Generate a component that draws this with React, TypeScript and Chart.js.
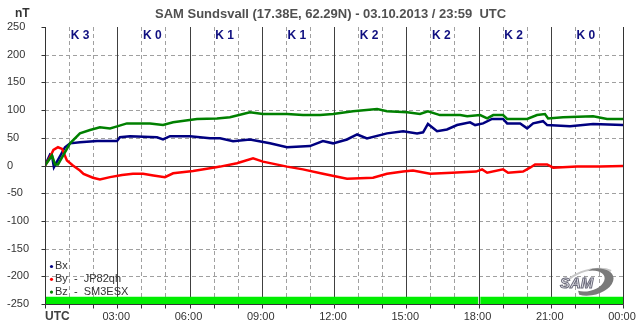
import React, { useEffect, useRef } from 'react';
import { Chart, registerables } from 'chart.js';

Chart.register(...registerables);

const FONT = 'Arial, "Liberation Sans", sans-serif';

// ---- data (hours UTC, nT) ----
const bxTimes = [0, 0.21, 0.29, 0.37, 0.83, 1.04, 1.45, 2.16, 2.99, 3.11, 3.53, 4.65, 4.9, 5.19, 6.02, 6.85, 7.27, 7.81, 8.51, 9.34, 10.05, 11.0, 11.54, 11.96, 12.54, 12.96, 13.37, 14.2, 14.87, 15.45, 15.7, 15.9, 16.28, 16.69, 17.11, 17.65, 17.86, 18.19, 18.56, 19.02, 19.19, 19.73, 20.02, 20.27, 20.68, 20.85, 21.8, 22.76, 24];
const bxValues = [0, 20, 18, -3, 33, 40, 42, 44, 44, 51, 53, 51, 47, 53, 53, 49, 49, 44, 47, 40, 33, 35, 44, 40, 47, 56, 49, 58, 62, 58, 60, 75, 62, 65, 73, 78, 73, 76, 84, 84, 76, 76, 67, 76, 80, 73, 71, 75, 73];

const byTimes = [0, 0.15, 0.35, 0.54, 0.71, 0.91, 1.16, 1.45, 1.6, 1.99, 2.28, 2.7, 3.2, 3.65, 4.07, 4.5, 4.98, 5.32, 6.15, 7.1, 7.27, 7.97, 8.64, 9.05, 10.05, 10.71, 11.54, 12.54, 13.62, 14.2, 14.87, 15.28, 15.99, 16.9, 17.9, 18.15, 18.36, 19.02, 19.23, 19.85, 20.14, 20.35, 20.85, 21.1, 22.09, 23.05, 24];
const byValues = [0, 10, 28, 33, 30, 9, 0, -9, -15, -22, -25, -21, -17, -15, -15, -18, -21, -14, -10, -3, -2, 4, 13, 7, -2, -7, -15, -24, -22, -15, -11, -9, -15, -13, -11, -7, -13, -7, -13, -11, -4, 2, 2, -4, -2, -2, -1];

const bzTimes = [0, 0.29, 0.42, 0.54, 0.75, 1.04, 1.45, 1.87, 2.28, 2.7, 3.03, 3.4, 4.07, 4.36, 4.9, 5.32, 6.31, 7.14, 7.68, 8.51, 9.05, 10.05, 10.71, 11.42, 11.96, 12.79, 13.79, 14.2, 15.04, 15.57, 15.9, 16.4, 17.24, 17.53, 18.07, 18.36, 18.61, 19.02, 19.19, 20.02, 20.43, 20.76, 20.89, 21.51, 22.76, 23.34, 24];
const bzValues = [0, 18, 2, 2, 18, 40, 58, 64, 69, 67, 71, 76, 76, 76, 73, 78, 84, 85, 87, 96, 93, 93, 91, 91, 93, 98, 102, 98, 96, 93, 98, 91, 91, 89, 91, 85, 91, 91, 84, 84, 91, 93, 85, 87, 89, 84, 84];

// data availability bar segments (start hour, end hour)
const availStarts = [0, 18.07];
const availEnds = [18.0, 24];
const availTop = -237;
const availBottom = -250;

const kIndexLabels = ['K 3', 'K 0', 'K 1', 'K 1', 'K 2', 'K 2', 'K 2', 'K 0'];
const hourTickHours = [3, 6, 9, 12, 15, 18, 21, 24];
const hourTickLabels = ['03:00', '06:00', '09:00', '12:00', '15:00', '18:00', '21:00', '00:00'];
const legendLabels = ['Bx', 'By  -  JP82qh', 'Bz  -  SM3ESX'];
const seriesColors = ['#000080', '#ff0000', '#008000'];
const titleText = 'SAM Sundsvall (17.38E, 62.29N) - 03.10.2013 / 23:59  UTC';
const yMin = -250;
const yMax = 250;
const yStep = 50;

const toPoints = (t: number[], v: number[]) => t.map((h, i) => ({ x: h, y: v[i] }));

const decor = {
  id: 'decor',
  beforeDatasetsDraw(chart: any) {
    const { ctx, chartArea: a, scales } = chart;
    const x = scales.x;
    const y = scales.y;
    ctx.save();
    ctx.lineWidth = 1;
    ctx.strokeStyle = '#a0a0a0';
    ctx.setLineDash([4, 3]);
    for (let v = yMin + yStep; v < yMax; v += yStep) {
      if (v === 0) continue;
      const py = Math.round(y.getPixelForValue(v)) + 0.5;
      ctx.beginPath();
      ctx.moveTo(a.left, py);
      ctx.lineTo(a.right, py);
      ctx.stroke();
    }
    for (let h = 1; h < 24; h++) {
      if (h % 3 === 0) continue;
      const px = Math.round(x.getPixelForValue(h)) + 0.5;
      ctx.beginPath();
      ctx.moveTo(px, a.top);
      ctx.lineTo(px, a.bottom);
      ctx.stroke();
    }
    ctx.setLineDash([]);
    ctx.strokeStyle = '#404040';
    for (let h = 3; h < 24; h += 3) {
      const px = Math.round(x.getPixelForValue(h)) + 0.5;
      ctx.beginPath();
      ctx.moveTo(px, a.top);
      ctx.lineTo(px, a.bottom);
      ctx.stroke();
    }
    const zy = Math.round(y.getPixelForValue(0)) + 0.5;
    ctx.beginPath();
    ctx.moveTo(a.left, zy);
    ctx.lineTo(a.right, zy);
    ctx.stroke();
    ctx.restore();
  },
  afterDatasetsDraw(chart: any) {
    const { ctx, chartArea: a, scales } = chart;
    const x = scales.x;
    const y = scales.y;
    ctx.save();
    ctx.lineWidth = 1;
    ctx.strokeStyle = '#333333';
    const l = Math.round(a.left) + 0.5;
    const r = Math.round(a.right) + 0.5;
    const b = Math.round(a.bottom) + 0.5;
    ctx.beginPath();
    ctx.moveTo(l, a.top);
    ctx.lineTo(l, b);
    ctx.lineTo(r, b);
    ctx.lineTo(r, a.top);
    ctx.stroke();
    for (let v = yMin; v <= yMax; v += yStep) {
      const py = Math.round(y.getPixelForValue(v)) + 0.5;
      ctx.beginPath();
      ctx.moveTo(l - 4, py);
      ctx.lineTo(l, py);
      ctx.stroke();
    }
    for (let h = 0; h <= 24; h++) {
      const px = Math.round(x.getPixelForValue(h)) + 0.5;
      ctx.beginPath();
      ctx.moveTo(px, b);
      ctx.lineTo(px, b + 4);
      ctx.stroke();
    }
    ctx.restore();
  },
  afterDraw(chart: any) {
    const { ctx, chartArea: a, scales } = chart;
    const x = scales.x;
    ctx.save();
    ctx.textBaseline = 'middle';
    // title
    ctx.fillStyle = '#505050';
    ctx.font = `bold 13px ${FONT}`;
    ctx.textAlign = 'left';
    ctx.fillText(titleText, 155, 14);
    ctx.font = `bold 12px ${FONT}`;
    ctx.fillStyle = '#333333';
    ctx.fillText('nT', 15, 14);
    // x labels
    ctx.fillStyle = '#404040';
    ctx.fillText('UTC', a.left, 317);
    ctx.font = `11px ${FONT}`;
    ctx.fillStyle = '#333333';
    ctx.textAlign = 'center';
    hourTickHours.forEach((h, i) => {
      ctx.fillText(hourTickLabels[i], x.getPixelForValue(h) - 1, 317);
    });
    // K indices
    ctx.font = `bold 12px ${FONT}`;
    ctx.fillStyle = '#101080';
    kIndexLabels.forEach((k, i) => {
      const px = x.getPixelForValue(i * 3 + 1.5) - 1;
      ctx.fillText(k, px, 36);
    });
    // legend
    ctx.font = `11px ${FONT}`;
    ctx.textAlign = 'left';
    legendLabels.forEach((lab, i) => {
      const ly = 266 + i * 12.8;
      ctx.fillStyle = seriesColors[i];
      ctx.beginPath();
      ctx.arc(51.5, ly + 0.5, 1.6, 0, Math.PI * 2);
      ctx.fill();
      ctx.fillStyle = '#333333';
      ctx.fillText(lab, 55, ly);
    });
    // SAM logo
    ctx.save();
    ctx.translate(586, 282);
    ctx.strokeStyle = '#c8c8c8';
    ctx.lineWidth = 2;
    ctx.beginPath();
    ctx.ellipse(4, 0, 26, 12, -0.25, Math.PI * 1.05, Math.PI * 1.85);
    ctx.stroke();
    ctx.fillStyle = '#7a7a7a';
    ctx.beginPath();
    ctx.ellipse(6, 0, 22, 13, -0.25, -Math.PI * 0.45, Math.PI * 0.75);
    ctx.ellipse(2, -1, 17, 10, -0.25, Math.PI * 0.75, -Math.PI * 0.45, true);
    ctx.closePath();
    ctx.fill();
    ctx.restore();
    ctx.font = `italic bold 15px ${FONT}`;
    ctx.textAlign = 'left';
    ctx.lineWidth = 1;
    ctx.strokeStyle = '#6a6a7a';
    ctx.fillStyle = '#e8e8ee';
    ctx.fillText('SAM', 560, 284);
    ctx.strokeText('SAM', 560, 284);
    ctx.restore();
  },
};

export default function App() {
  const ref = useRef<HTMLCanvasElement | null>(null);
  useEffect(() => {
    if (!ref.current) return;
    const availDatasets = availStarts.map((s, i) => ({
      label: 'avail' + i,
      data: [
        { x: s, y: availTop },
        { x: availEnds[i], y: availTop },
      ],
      borderWidth: 0,
      borderColor: 'rgba(0,0,0,0)',
      backgroundColor: '#00ee00',
      pointRadius: 0,
      fill: { value: availBottom },
      order: 10,
    }));
    const lineW = 2.5;
    const chart = new Chart(ref.current, {
      type: 'line',
      data: {
        datasets: [
          { label: 'Bz', data: toPoints(bzTimes, bzValues), borderColor: seriesColors[2], borderWidth: lineW, pointRadius: 0, fill: false, order: 1 },
          { label: 'By', data: toPoints(byTimes, byValues), borderColor: seriesColors[1], borderWidth: lineW, pointRadius: 0, fill: false, order: 2 },
          { label: 'Bx', data: toPoints(bxTimes, bxValues), borderColor: seriesColors[0], borderWidth: lineW, pointRadius: 0, fill: false, order: 3 },
          ...availDatasets,
        ] as any,
      },
      options: {
        animation: false,
        responsive: false,
        maintainAspectRatio: false,
        devicePixelRatio: 1,
        layout: { padding: { left: 7, right: 20, top: 27, bottom: 0 } },
        plugins: { legend: { display: false }, tooltip: { enabled: false }, title: { display: false } },
        elements: { line: { tension: 0 } },
        scales: {
          x: {
            type: 'linear',
            min: 0,
            max: 24,
            grid: { display: false },
            border: { display: false },
            afterFit: (s: any) => { s.height = 27; },
            ticks: { display: false, stepSize: 1 },
          },
          y: {
            type: 'linear',
            min: yMin,
            max: yMax,
            grid: { display: false },
            border: { display: false },
            afterFit: (s: any) => { s.width = 38; },
            ticks: {
              stepSize: yStep,
              crossAlign: 'far',
              color: '#333333',
              font: { family: FONT, size: 11 },
            },
          },
        },
      },
      plugins: [decor],
    } as any);
    return () => chart.destroy();
  }, []);
  return (
    <div style={{ position: 'absolute', left: 0, top: 0, width: 643, height: 331, background: '#fff' }}>
      <canvas ref={ref} width={643} height={331} style={{ width: 643, height: 331, display: 'block' }} />
    </div>
  );
}
